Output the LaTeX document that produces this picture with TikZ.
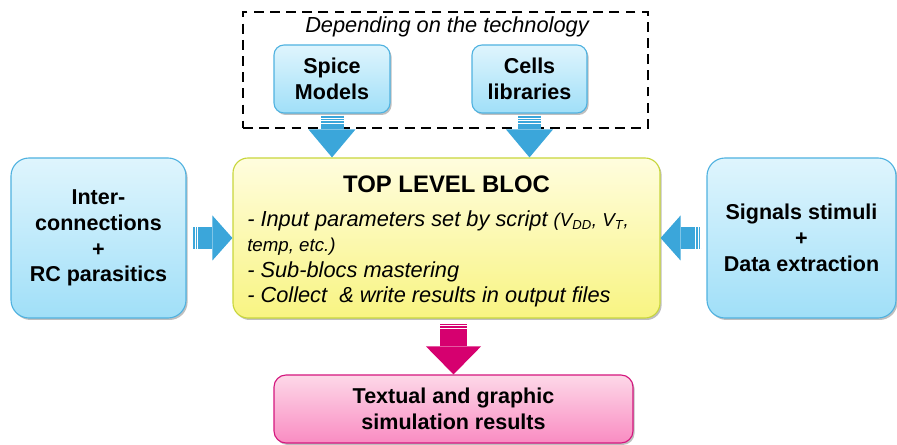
\documentclass[tikz,border=0pt]{standalone}
\usepackage{fontspec}
\setmainfont{Liberation Sans}
\usepackage{xcolor}
\usepackage{tikz}
\usetikzlibrary{arrows.meta,positioning,calc,shadows}

\definecolor{bluetop}{RGB}{223,245,253}
\definecolor{bluebot}{RGB}{160,223,248}
\definecolor{blueline}{RGB}{80,178,224}
\definecolor{yeltop}{RGB}{255,253,222}
\definecolor{yelbot}{RGB}{248,244,130}
\definecolor{yelline}{RGB}{200,214,60}
\definecolor{pinktop}{RGB}{253,216,232}
\definecolor{pinkbot}{RGB}{249,140,194}
\definecolor{pinkline}{RGB}{212,23,126}
\definecolor{arrblue}{RGB}{59,166,218}
\definecolor{arrpink}{RGB}{214,0,111}

\begin{document}
\begin{tikzpicture}[
  techbox/.style={rectangle, draw=black, line width=2pt, dash pattern=on 7pt off 4.5pt,
    minimum width=10.125cm, minimum height=2.9cm, inner sep=0pt},
  bluebox/.style={rectangle, draw=blueline, line width=0.8pt, top color=bluetop, bottom color=bluebot,
    align=center, inner sep=0pt, font=\fontsize{15.3}{18.3}\selectfont\bfseries,
    drop shadow={shadow xshift=0.04cm, shadow yshift=-0.05cm, fill=black, opacity=0.25}},
  yelbox/.style={rectangle, draw=yelline, line width=0.8pt, top color=yeltop, bottom color=yelbot,
    rounded corners=0.375cm, minimum width=10.675cm, minimum height=4.0cm, inner sep=0pt,
    drop shadow={shadow xshift=0.04cm, shadow yshift=-0.05cm, fill=black, opacity=0.25}},
  pinkbox/.style={rectangle, draw=pinkline, line width=0.8pt, top color=pinktop, bottom color=pinkbot,
    rounded corners=0.3cm, minimum width=8.975cm, minimum height=1.7cm, inner sep=0pt, align=center,
    font=\fontsize{15.3}{18.3}\selectfont\bfseries,
    drop shadow={shadow xshift=0.04cm, shadow yshift=-0.05cm, fill=black, opacity=0.25}},
  itext/.style={font=\fontsize{15.5}{18.2}\selectfont\itshape, inner sep=0pt},
  titletext/.style={font=\fontsize{17}{20}\selectfont\bfseries, inner sep=0pt},
  vblue/.style={line width=0.575cm, draw=arrblue,
    -{Triangle[length=0.7cm, width=1.175cm, line width=0pt]}},
  hblue/.style={line width=0.55cm, draw=arrblue,
    -{Triangle[length=0.5cm, width=1.125cm, line width=0pt]}},
  vpink/.style={line width=0.675cm, draw=arrpink,
    -{Triangle[length=0.7cm, width=1.375cm, line width=0pt]}},
  stripe/.style={draw=white, line width=0.6pt}
]
\useasboundingbox (0,0) rectangle (22.425,-11.125);

% technology dependent inputs
\node[techbox] (tech) at (11.1375,-1.75) {};
\node[itext] (techlbl) at (11.175,-0.675) {Depending on the technology};
\node[bluebox, rounded corners=0.25cm, minimum width=2.9cm, minimum height=1.7cm] (spice) at (8.3,-1.975) {Spice\\Models};
\node[bluebox, rounded corners=0.25cm, minimum width=2.875cm, minimum height=1.7cm] (cells) at (13.2375,-1.975) {Cells\\libraries};

% main bloc
\node[yelbox] (top) at (11.1625,-5.95) {};
\node[titletext] (toptitle) at (11.1625,-4.6) {TOP LEVEL BLOC};
\node[itext, align=left, anchor=west] (toplist) at (6.175,-6.47)
  {- Input parameters set by script {\fontsize{13.3}{15}\selectfont(V\textsubscript{DD}, V\textsubscript{T},}\\
   {\fontsize{13.3}{15}\selectfont temp, etc.)}\\
   - Sub-blocs mastering\\
   - Collect\ \ \& write results in output files};

% side inputs
\node[bluebox, rounded corners=0.45cm, minimum width=4.375cm, minimum height=4.0cm] (inter) at (2.4625,-5.95) {Inter-\\connections\\+\\RC parasitics};
\node[bluebox, rounded corners=0.45cm, minimum width=4.725cm, minimum height=4.0cm] (sig) at (20.0375,-5.95) {Signals stimuli\\+\\Data extraction};

% output
\node[pinkbox] (res) at (11.3375,-10.225) {Textual and graphic\\simulation results};

\draw[vblue, shorten <=0.05cm] (spice.south) -- (spice.south |- top.north);
\draw[vblue, shorten <=0.05cm] (cells.south) -- (cells.south |- top.north);
\draw[hblue, shorten <=0.125cm] (inter.east) -- (top.west);
\draw[hblue, shorten <=0.125cm] (sig.west) -- (top.east);
\draw[vpink, shorten <=0.1cm] (res.north |- top.south) -- (res.north);

% striped tails
\foreach \d in {0.12,0.18,0.24} {
  \draw[stripe] ($(spice.south)+(-0.3,-\d)$) -- ++(0.6,0);
  \draw[stripe] ($(cells.south)+(-0.3,-\d)$) -- ++(0.6,0);
  \draw[stripe] ($(res.north |- top.south)+(-0.35,-\d)$) -- ++(0.7,0);
  \draw[stripe] ($(inter.east)+(\d+0.03,-0.28)$) -- ++(0,0.56);
  \draw[stripe] ($(sig.west)+(-\d-0.03,-0.28)$) -- ++(0,0.56);
}

\end{tikzpicture}
\end{document}
